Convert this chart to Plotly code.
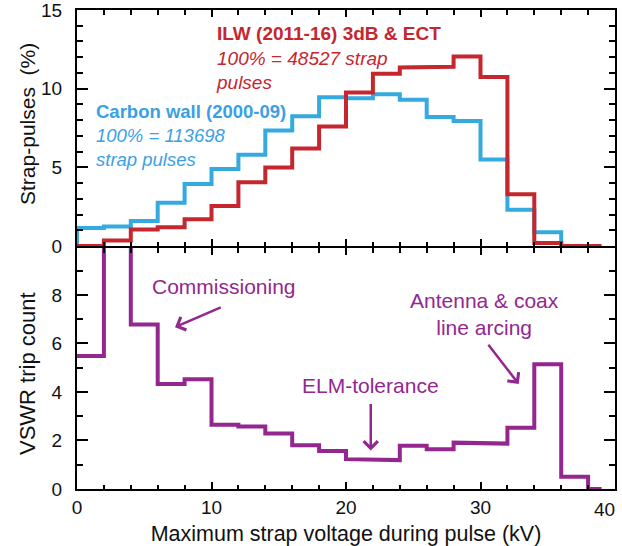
import plotly.graph_objects as go

# ---------------- data ----------------
# bin edges (kV), 2 kV bins
carbon_edges = [0, 2, 4, 6, 8, 10, 12, 14, 16, 18, 20, 22, 24, 26, 28, 30, 32, 34, 36]
carbon_pct = [1.15, 1.25, 1.6, 2.75, 3.95, 4.9, 5.8, 7.35, 8.25, 9.45, 9.4, 9.65, 9.3,
              8.2, 7.95, 5.5, 2.3, 0.88]

ilw_edges = [0, 2, 4, 6, 8, 10, 12, 14, 16, 18, 20, 22, 24, 26, 28, 30, 32, 34, 36, 38, 39]
ilw_pct = [0.0, 0.35, 1.05, 1.2, 1.7, 2.55, 4.05, 5.0, 6.2, 7.6, 9.75, 10.95, 11.35, 11.4,
           12.05, 10.75, 3.3, 0.2, 0.0, 0.0]

vswr_edges = [0, 2, 4, 6, 8, 10, 12, 14, 16, 18, 20, 22, 24, 26, 28, 30, 32, 34, 36, 38, 39]
vswr_trips = [5.48, 12.0, 6.78, 4.33, 4.52, 2.65, 2.58, 2.29, 1.8, 1.57, 1.23, 1.19, 1.78,
              1.64, 1.91, 1.87, 2.52, 5.14, 0.5, 0.0]

x_ticks = [0, 10, 20, 30, 40]
x_tick_text = ["0", "10", "20", "30", ""]   # "40" drawn separately (shifted inside page)
top_ticks = [0, 5, 10, 15]
bottom_ticks = [0, 2, 4, 6, 8]

RED = "#c6262e"
BLUE = "#34aae0"
BLUE_TXT = "#3b9fe8"
PURPLE = "#93278f"
FONT = "Liberation Sans, Arial, sans-serif"


def stairs(edges, vals, start_zero=True):
    xs, ys = ([edges[0]], [0]) if start_zero else ([], [])
    for i, v in enumerate(vals):
        xs += [edges[i], edges[i + 1]]
        ys += [v, v]
    xs.append(edges[len(vals)])
    ys.append(0)
    return xs, ys


fig = go.Figure()

cx, cy = stairs(carbon_edges, carbon_pct)
fig.add_trace(go.Scatter(x=cx, y=cy, mode="lines", line=dict(color=BLUE, width=4),
                         xaxis="x", yaxis="y", showlegend=False, name="Carbon wall"))
ix, iy = stairs(ilw_edges, ilw_pct)
fig.add_trace(go.Scatter(x=ix, y=iy, mode="lines", line=dict(color=RED, width=4),
                         xaxis="x", yaxis="y", showlegend=False, name="ILW"))
vx, vy = stairs(vswr_edges, vswr_trips, start_zero=False)
fig.add_trace(go.Scatter(x=vx, y=vy, mode="lines", line=dict(color=PURPLE, width=4),
                         xaxis="x2", yaxis="y2", showlegend=False, name="VSWR"))

PLOT_H = 546 - 10 - 57
split = 0.503
gap = 2.0 / PLOT_H     # so the two 2px frame lines coincide at the panel boundary
TICK_FONT = dict(family=FONT, size=19, color="#111")
axis_common = dict(showline=True, linecolor="black", linewidth=2, mirror="ticks",
                   ticks="inside", tickcolor="black", tickwidth=1.5, showgrid=False,
                   zeroline=False, tickfont=TICK_FONT, ticklabeloverflow="allow",
                   automargin=False)
minor_x = dict(dtick=2, ticklen=4.5, ticks="inside", tickcolor="black", tickwidth=1.5)
minor_y = dict(dtick=1, ticklen=6, ticks="inside", tickcolor="black", tickwidth=1.5)

fig.update_layout(
    width=622, height=546,
    margin=dict(l=77, r=7, t=10, b=57),
    paper_bgcolor="white", plot_bgcolor="white",
    font=dict(family=FONT, color="#111"),
    xaxis=dict(domain=[0, 1], anchor="y", range=[0, 40], tickvals=x_ticks,
               showticklabels=False, ticklen=7, minor=minor_x, **axis_common),
    yaxis=dict(domain=[split + gap, 1], anchor="x", range=[0, 15], tickvals=top_ticks,
               ticklen=11, ticklabelstandoff=9, minor=minor_y, **axis_common),
    xaxis2=dict(domain=[0, 1], anchor="y2", range=[0, 40], tickvals=x_ticks,
                ticktext=x_tick_text, ticklen=7, minor=minor_x,
                title=dict(text="Maximum strap voltage during pulse (kV)",
                           font=dict(family=FONT, size=21.5, color="#111"), standoff=14),
                **axis_common),
    yaxis2=dict(domain=[0, split], anchor="x2", range=[0, 9.93], tickvals=bottom_ticks,
                ticklen=11, ticklabelstandoff=9, minor=minor_y, **axis_common),
)

ann = []
# last x tick label, nudged inside the page as in the reference
ann.append(dict(text=str(x_ticks[-1]), xref="paper", yref="paper", x=0.9796, y=-0.0418,
                xanchor="center", yanchor="middle", showarrow=False, font=TICK_FONT))
# y-axis titles
ann.append(dict(text="Strap-pulses  (%)", xref="paper", yref="paper", x=-0.093, y=0.762,
                textangle=-90, showarrow=False, xanchor="center", yanchor="middle",
                font=dict(family=FONT, size=21, color="#111")))
ann.append(dict(text="VSWR trip count", xref="paper", yref="paper", x=-0.093, y=0.242,
                textangle=-90, showarrow=False, xanchor="center", yanchor="middle",
                font=dict(family=FONT, size=22, color="#111")))
# top panel labels
ann.append(dict(text="<b>ILW (2011-16) 3dB &amp; ECT</b><br><i>100% = 48527 strap<br>pulses</i>",
                xref="x", yref="y", x=10.2, y=11.97, xanchor="left", yanchor="middle",
                align="left", showarrow=False, font=dict(family=FONT, size=19, color=RED)))
ann.append(dict(text="<b>Carbon wall (2000-09)</b><br><i>100% = 113698<br>strap pulses</i>",
                xref="x", yref="y", x=1.25, y=7.04, xanchor="left", yanchor="middle",
                align="left", showarrow=False, font=dict(family=FONT, size=18.5, color=BLUE_TXT)))
# bottom panel labels
lab_font = dict(family=FONT, size=21, color=PURPLE)
ann.append(dict(text="Commissioning", xref="x2", yref="y2", x=10.9, y=8.33,
                showarrow=False, font=lab_font))
ann.append(dict(text="ELM-tolerance", xref="x2", yref="y2", x=21.84, y=4.25,
                showarrow=False, font=lab_font))
ann.append(dict(text="Antenna &amp; coax<br>line arcing", xref="x2", yref="y2", x=30.3, y=7.21,
                showarrow=False, align="center", font=lab_font))
# arrows
arrows = [((10.8, 7.51), (7.29, 6.67)), ((21.84, 3.56), (21.84, 1.59)), ((30.5, 6.01), (32.84, 4.33))]
for (tx, ty), (hx, hy) in arrows:
    ann.append(dict(text="", xref="x2", yref="y2", axref="x2", ayref="y2",
                    x=hx, y=hy, ax=tx, ay=ty, showarrow=True, arrowhead=4,
                    arrowsize=1.1, arrowwidth=2.5, arrowcolor=PURPLE))
fig.update_layout(annotations=ann)

fig.write_html("out.html")
